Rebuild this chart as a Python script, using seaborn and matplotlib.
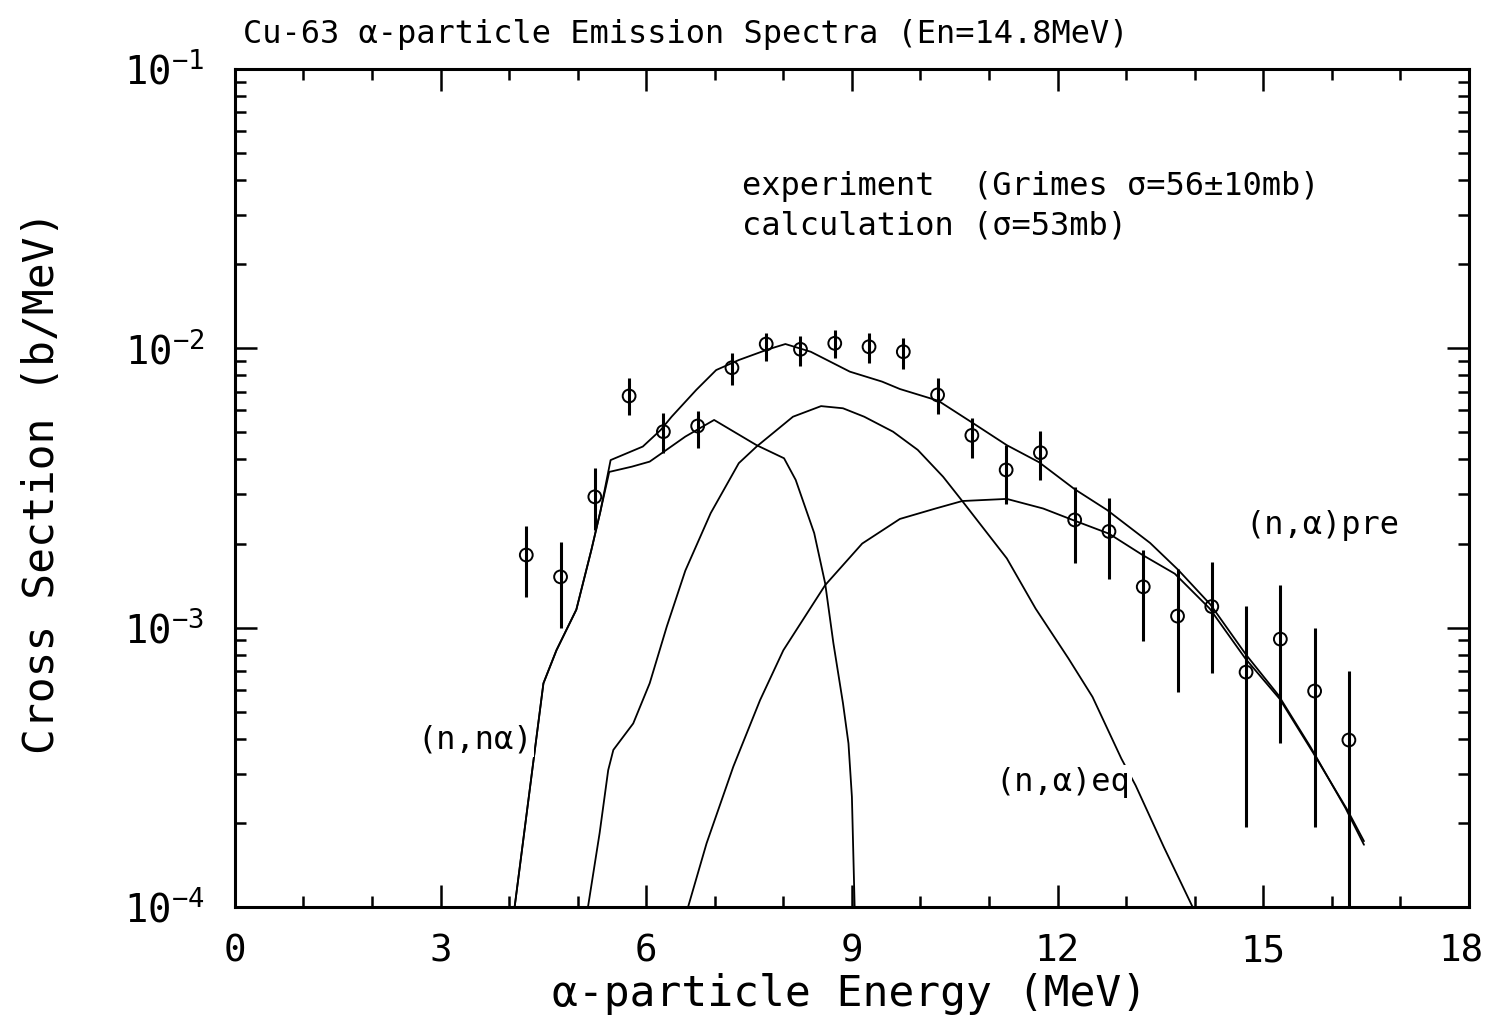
"""
Cu-63 alpha-particle emission spectra at En = 14.8 MeV
Experiment (Grimes) vs. calculated components, saved to out.png
"""

import matplotlib
matplotlib.use("Agg")
import matplotlib.pyplot as plt
import matplotlib.transforms as mtransforms
import seaborn as sns
import numpy as np
from matplotlib.ticker import FixedLocator, MultipleLocator, LogLocator, NullFormatter, FuncFormatter

# Experimental points (Grimes), b/MeV
E_exp = [4.25, 4.75, 5.25, 5.75, 6.25, 6.75, 7.25, 7.75, 8.25, 8.75, 9.25, 9.75, 10.25,
         10.75, 11.25, 11.75, 12.25, 12.75, 13.25, 13.75, 14.25, 14.75, 15.25, 15.75, 16.25]
sig_exp = [1.82e-3, 1.52e-3, 2.94e-3, 6.75e-3, 5.03e-3, 5.27e-3, 8.52e-3, 1.036e-2, 9.92e-3,
           1.042e-2, 1.013e-2, 9.72e-3, 6.81e-3, 4.88e-3, 3.67e-3, 4.23e-3, 2.43e-3, 2.21e-3,
           1.40e-3, 1.10e-3, 1.19e-3, 6.93e-4, 9.10e-4, 5.93e-4, 3.96e-4]
sig_lo = [1.29e-3, 9.97e-4, 2.24e-3, 5.77e-3, 4.22e-3, 4.40e-3, 7.39e-3, 9.03e-3, 8.64e-3,
          9.23e-3, 8.86e-3, 8.43e-3, 5.82e-3, 4.05e-3, 2.77e-3, 3.39e-3, 1.70e-3, 1.49e-3,
          8.95e-4, 5.88e-4, 6.88e-4, 1.93e-4, 3.86e-4, 1.93e-4, 9.0e-5]
sig_hi = [2.31e-3, 2.03e-3, 3.74e-3, 7.83e-3, 5.87e-3, 5.98e-3, 9.62e-3, 1.137e-2, 1.107e-2,
          1.163e-2, 1.137e-2, 1.089e-2, 7.83e-3, 5.63e-3, 4.51e-3, 5.04e-3, 3.19e-3, 2.92e-3,
          1.90e-3, 1.62e-3, 1.72e-3, 1.20e-3, 1.42e-3, 9.99e-4, 7.00e-4]

# Calculation: total
E_total = [4.08, 4.35, 4.50, 4.69, 4.98, 5.20, 5.33, 5.48, 5.95, 6.21, 6.37, 6.73, 7.02, 7.35,
           7.78, 8.03, 8.40, 8.97, 9.44, 9.70, 10.26, 10.74, 11.26, 11.73, 12.25, 12.72, 13.35,
           13.76, 14.23, 14.75, 15.22, 15.69, 16.20, 16.47]
sig_total = [1.0e-4, 3.27e-4, 6.32e-4, 8.3e-4, 1.16e-3, 1.9e-3, 2.6e-3, 3.98e-3, 4.45e-3, 5.1e-3,
             5.69e-3, 7.1e-3, 8.36e-3, 9.08e-3, 9.92e-3, 1.036e-2, 9.72e-3, 8.25e-3, 7.6e-3,
             7.15e-3, 6.49e-3, 5.45e-3, 4.5e-3, 3.91e-3, 3.13e-3, 2.64e-3, 2.01e-3, 1.61e-3,
             1.21e-3, 8.0e-4, 5.74e-4, 3.74e-4, 2.26e-4, 1.67e-4]

# (n,n alpha)
E_nna = [4.08, 4.35, 4.50, 4.69, 4.98, 5.20, 5.33, 5.46, 5.79, 6.05, 6.26, 6.57, 6.99, 7.61,
         8.01, 8.18, 8.45, 8.61, 8.73, 8.87, 8.95, 9.00, 9.04]
sig_nna = [1.0e-4, 3.27e-4, 6.32e-4, 8.3e-4, 1.16e-3, 1.9e-3, 2.6e-3, 3.61e-3, 3.77e-3, 3.93e-3,
           4.27e-3, 4.83e-3, 5.54e-3, 4.5e-3, 4.04e-3, 3.38e-3, 2.18e-3, 1.44e-3, 8.8e-4,
           5.36e-4, 3.85e-4, 2.48e-4, 1.0e-4]

# (n,alpha) equilibrium
E_eq = [5.15, 5.32, 5.445, 5.52, 5.81, 6.05, 6.30, 6.57, 6.94, 7.35, 7.61, 8.14, 8.55, 8.87,
        9.18, 9.60, 9.96, 10.33, 10.61, 11.26, 11.68, 12.16, 12.51, 12.93, 13.14, 13.55, 13.97]
sig_eq = [1.0e-4, 1.84e-4, 3.09e-4, 3.65e-4, 4.54e-4, 6.32e-4, 1.01e-3, 1.6e-3, 2.57e-3, 3.88e-3,
          4.45e-3, 5.69e-3, 6.21e-3, 6.1e-3, 5.69e-3, 5.03e-3, 4.33e-3, 3.47e-3, 2.84e-3,
          1.77e-3, 1.17e-3, 7.75e-4, 5.65e-4, 3.40e-4, 2.72e-4, 1.64e-4, 1.0e-4]

# (n,alpha) pre-equilibrium
E_pre = [6.61, 6.88, 7.27, 7.66, 8.00, 8.61, 9.15, 9.70, 10.22, 10.61, 11.26, 11.79, 12.22,
         12.75, 13.24, 13.71, 14.22, 14.74, 15.24, 15.73, 16.23, 16.47]
sig_pre = [1.0e-4, 1.69e-4, 3.18e-4, 5.5e-4, 8.3e-4, 1.42e-3, 2.0e-3, 2.45e-3, 2.67e-3, 2.84e-3,
           2.89e-3, 2.67e-3, 2.43e-3, 2.17e-3, 1.82e-3, 1.56e-3, 1.17e-3, 7.75e-4, 5.56e-4,
           3.56e-4, 2.22e-4, 1.72e-4]

x_ticks = [0, 3, 6, 9, 12, 15, 18]

# Style
sns.set_theme(style="ticks")
plt.rcParams["font.family"] = ["DejaVu Sans Mono"]
plt.rcParams["mathtext.default"] = "regular"
for key in ["text.color", "axes.labelcolor", "xtick.color", "ytick.color", "axes.edgecolor"]:
    plt.rcParams[key] = "black"

fig = plt.figure(figsize=(14.87, 10.16), dpi=100)
ax = fig.add_axes([0.158, 0.1073, 0.8298, 0.8248])
ax.set_yscale("log")

# Calculated curves
for xs, ys in [(E_total, sig_total), (E_nna, sig_nna), (E_eq, sig_eq), (E_pre, sig_pre)]:
    sns.lineplot(x=xs, y=ys, ax=ax, color="black", linewidth=1.3,
                 sort=False, estimator=None, zorder=2)

# Experiment: error bars through open circles
ax.vlines(E_exp, sig_lo, sig_hi, color="black", linewidth=2.2, zorder=3)
sns.scatterplot(x=E_exp, y=sig_exp, ax=ax, marker="o", s=85, facecolors="none",
                edgecolors="black", linewidth=1.4, zorder=4)

ax.set_xlim(0, 18)
ax.set_ylim(1e-4, 1e-1)

ax.xaxis.set_major_locator(FixedLocator(x_ticks))
ax.xaxis.set_minor_locator(MultipleLocator(1))
ax.yaxis.set_major_locator(LogLocator(base=10, numticks=10))
ax.yaxis.set_minor_locator(LogLocator(base=10, subs=np.arange(2, 10), numticks=20))
ax.yaxis.set_minor_formatter(NullFormatter())
ax.yaxis.set_major_formatter(FuncFormatter(
    lambda v, pos: r"$\mathregular{10^{%d}}$" % int(round(np.log10(v)))))

ax.tick_params(which="both", direction="in", top=True, right=True,
               color="black", width=1.8)
ax.tick_params(which="major", length=16)
ax.tick_params(which="minor", length=8)
ax.tick_params(axis="x", which="major", labelsize=27, pad=19)
ax.tick_params(axis="y", which="major", labelsize=28, pad=22)

# nudge the last x label inside the figure, as in the reference
last_tick = ax.xaxis.get_major_ticks()[-1]
last_tick.label1.set_transform(last_tick.label1.get_transform() +
                               mtransforms.ScaledTranslation(-0.08, 0, fig.dpi_scale_trans))

for spine in ax.spines.values():
    spine.set_color("black")
    spine.set_linewidth(2.2)

# Labels
fig.text(243 / 1487, 1 - 35 / 1016, "Cu-63 α-particle Emission Spectra (En=14.8MeV)",
         fontsize=23, ha="left", va="center")
fig.text(850 / 1487, 1 - 994 / 1016, "α-particle Energy (MeV)",
         fontsize=31, ha="center", va="center")
fig.text(42 / 1487, 1 - 482 / 1016, "Cross Section (b/MeV)",
         fontsize=31, ha="center", va="center", rotation=90)

ax.text(7.395, 3.81e-2, "experiment  (Grimes σ=56±10mb)", fontsize=23, va="center")
ax.text(7.395, 2.74e-2, "calculation (σ=53mb)", fontsize=23, va="center")

box = dict(facecolor="white", edgecolor="none", pad=1)
ax.text(3.50, 3.96e-4, "(n,nα)", fontsize=23, ha="center", va="center", bbox=box, zorder=5)
ax.text(12.08, 2.8e-4, "(n,α)eq", fontsize=23, ha="center", va="center", bbox=box, zorder=5)
ax.text(15.87, 2.33e-3, "(n,α)pre", fontsize=23, ha="center", va="center", bbox=box, zorder=5)

fig.savefig("out.png", dpi=100)
plt.close(fig)
